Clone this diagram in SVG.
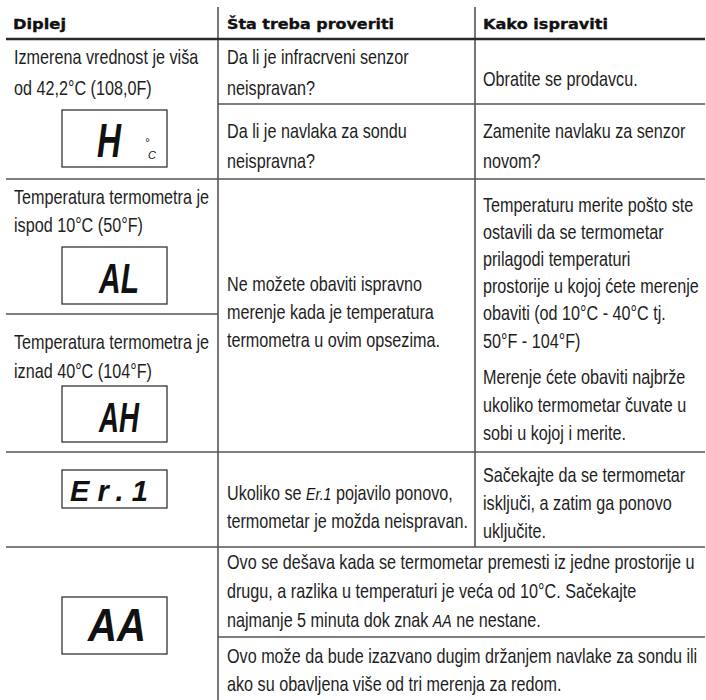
<svg xmlns="http://www.w3.org/2000/svg" width="706" height="700" viewBox="0 0 706 700">
<style>
.t{font-family:"Liberation Sans",Arial,sans-serif;font-size:19.5px;fill:#1e1e1e}
.h{font-family:"DejaVu Sans","Liberation Sans",sans-serif;font-weight:bold;font-size:14.5px;fill:#111;stroke:#111;stroke-width:0.35}
.seg{font-family:"Liberation Sans",Arial,sans-serif;font-style:italic;fill:#111}
.lcd{font-weight:bold}
.g{stroke:#555;stroke-width:1.6;fill:none}
.box{fill:#fff;stroke:#333;stroke-width:1.3}
</style>
<rect width="706" height="700" fill="#fff"/>
<g id="grid">
  <line class="g" x1="218" y1="7" x2="218" y2="700"/>
  <line class="g" x1="475" y1="7" x2="475" y2="547"/>
  <line x1="6" y1="39" x2="705" y2="39" stroke="#2a2a2a" stroke-width="2.6"/>
  <line class="g" x1="218" y1="104" x2="705" y2="104"/>
  <line class="g" x1="6" y1="179" x2="705" y2="179"/>
  <line class="g" x1="6" y1="314" x2="218" y2="314"/>
  <line class="g" x1="6" y1="452" x2="705" y2="452"/>
  <line class="g" x1="6" y1="547" x2="705" y2="547"/>
  <line class="g" x1="218" y1="637" x2="705" y2="637"/>
</g>
<g id="header">
  <text class="h" x="13" y="29" textLength="53" lengthAdjust="spacingAndGlyphs">Diplej</text>
  <text class="h" x="227" y="29" textLength="167" lengthAdjust="spacingAndGlyphs">Šta treba proveriti</text>
  <text class="h" x="483" y="29" textLength="125" lengthAdjust="spacingAndGlyphs">Kako ispraviti</text>
</g>
<g id="row1-display">
  <g transform="scale(0.83 1)">
    <text class="t" x="16.87" y="64">Izmerena vrednost je viša</text>
    <text class="t" x="16.87" y="95">od 42,2°C (108,0F)</text>
  </g>
  <rect class="box" x="62" y="110" width="105" height="57"/>
  <text class="seg lcd" x="97" y="157" font-size="49" textLength="24" lengthAdjust="spacingAndGlyphs">H</text>
  <text class="seg" x="145" y="146" font-size="11">°</text>
  <text class="seg" x="148" y="159" font-size="11">C</text>
</g>
<g id="row1-check" transform="scale(0.83 1)">
  <text class="t" x="273.49" y="64">Da li je infracrveni senzor</text>
  <text class="t" x="273.49" y="95">neispravan?</text>
  <text class="t" x="273.49" y="138">Da li je navlaka za sondu</text>
  <text class="t" x="273.49" y="168">neispravna?</text>
</g>
<g id="row1-fix" transform="scale(0.83 1)">
  <text class="t" x="581.93" y="86">Obratite se prodavcu.</text>
  <text class="t" x="581.93" y="138">Zamenite navlaku za senzor</text>
  <text class="t" x="581.93" y="168">novom?</text>
</g>
<g id="row2-display-al">
  <g transform="scale(0.83 1)">
    <text class="t" x="16.87" y="204">Temperatura termometra je</text>
    <text class="t" x="16.87" y="232">ispod 10°C (50°F)</text>
  </g>
  <rect class="box" x="62" y="247" width="105" height="57"/>
  <text class="seg lcd" x="99" y="293" font-size="43" textLength="40" lengthAdjust="spacingAndGlyphs">AL</text>
</g>
<g id="row2-display-ah">
  <g transform="scale(0.83 1)">
    <text class="t" x="16.87" y="349">Temperatura termometra je</text>
    <text class="t" x="16.87" y="378">iznad 40°C (104°F)</text>
  </g>
  <rect class="box" x="62" y="386" width="105" height="56"/>
  <text class="seg lcd" x="99" y="432" font-size="43" textLength="40" lengthAdjust="spacingAndGlyphs">AH</text>
</g>
<g id="row2-check" transform="scale(0.83 1)">
  <text class="t" x="273.49" y="291">Ne možete obaviti ispravno</text>
  <text class="t" x="273.49" y="319">merenje kada je temperatura</text>
  <text class="t" x="273.49" y="347">termometra u ovim opsezima.</text>
</g>
<g id="row2-fix" transform="scale(0.83 1)">
  <text class="t" x="581.93" y="212">Temperaturu merite pošto ste</text>
  <text class="t" x="581.93" y="239">ostavili da se termometar</text>
  <text class="t" x="581.93" y="266">prilagodi temperaturi</text>
  <text class="t" x="581.93" y="293">prostorije u kojoj ćete merenje</text>
  <text class="t" x="581.93" y="320">obaviti (od 10°C - 40°C tj.</text>
  <text class="t" x="581.93" y="348">50°F - 104°F)</text>
  <text class="t" x="581.93" y="384">Merenje ćete obaviti najbrže</text>
  <text class="t" x="581.93" y="412">ukoliko termometar čuvate u</text>
  <text class="t" x="581.93" y="440">sobi u kojoj i merite.</text>
</g>
<g id="row3-display">
  <rect class="box" x="62" y="470" width="105" height="38"/>
  <text class="seg lcd" x="70" y="501" font-size="29" textLength="78" lengthAdjust="spacing">Er.1</text>
</g>
<g id="row3-check" transform="scale(0.83 1)">
  <text class="t" x="273.49" y="500">Ukoliko se <tspan class="seg" font-size="17">Er.1</tspan> pojavilo ponovo,</text>
  <text class="t" x="273.49" y="528">termometar je možda neispravan.</text>
</g>
<g id="row3-fix" transform="scale(0.83 1)">
  <text class="t" x="581.93" y="482">Sačekajte da se termometar</text>
  <text class="t" x="581.93" y="510">isključi, a zatim ga ponovo</text>
  <text class="t" x="581.93" y="538">uključite.</text>
</g>
<g id="row4-display">
  <rect class="box" x="62" y="597" width="105" height="57"/>
  <text class="seg lcd" x="88" y="641" font-size="47" textLength="58" lengthAdjust="spacingAndGlyphs">AA</text>
</g>
<g id="row4-info" transform="scale(0.83 1)">
  <text class="t" x="273.49" y="569">Ovo se dešava kada se termometar premesti iz jedne prostorije u</text>
  <text class="t" x="273.49" y="598">drugu, a razlika u temperaturi je veća od 10°C. Sačekajte</text>
  <text class="t" x="273.49" y="627">najmanje 5 minuta dok znak <tspan class="seg" font-size="17">AA</tspan> ne nestane.</text>
  <text class="t" x="273.49" y="663">Ovo može da bude izazvano dugim držanjem navlake za sondu ili</text>
  <text class="t" x="273.49" y="691">ako su obavljena više od tri merenja za redom.</text>
</g>
</svg>
